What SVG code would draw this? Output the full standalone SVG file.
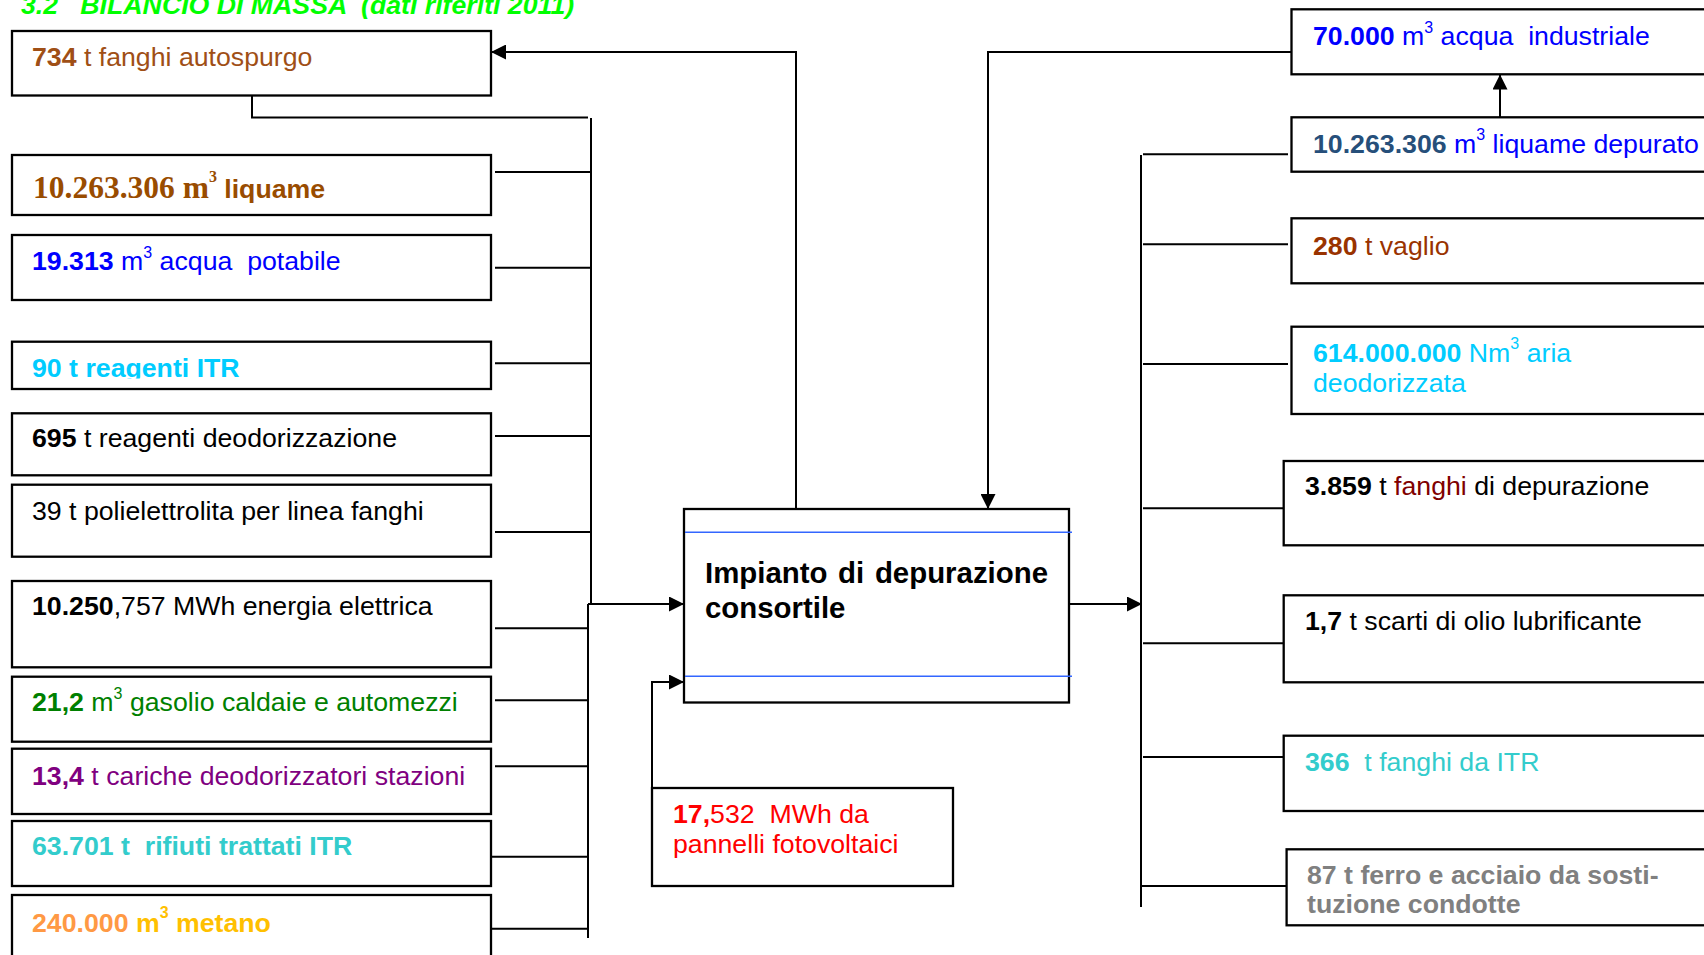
<svg xmlns="http://www.w3.org/2000/svg" width="1704" height="955" viewBox="0 0 1704 955">
<style>
  .box{fill:#fff;stroke:#000;stroke-width:2.3}
  .ln{stroke:#000;stroke-width:2;fill:none}
  .blue{stroke:#3366ff;stroke-width:1.6}
  text{font-family:"Liberation Sans",Arial,sans-serif;font-size:26.7px;white-space:pre}
  .b{font-weight:bold}
  .sup{font-size:16px}
  .serif{font-family:"Liberation Serif","Times New Roman",serif;font-weight:bold;font-size:31.5px}
  .serifsup{font-family:"Liberation Serif","Times New Roman",serif;font-weight:bold;font-size:16px}
  .main{font-weight:bold;font-size:29.4px}
</style>
<defs>
  <marker id="arr" markerUnits="userSpaceOnUse" markerWidth="15" markerHeight="15" refX="15" refY="7.5" orient="auto">
    <path d="M0,0 L15,7.5 L0,15 z" fill="#000"/>
  </marker>
  <clipPath id="clip90"><rect x="12" y="342" width="479" height="36.5"/></clipPath>
</defs>
<rect width="1704" height="955" fill="#fff"/>

<text id="title" x="21" y="13.5" class="b" font-style="italic" fill="#00ff00">3.2   BILANCIO DI MASSA  (dati riferiti 2011)</text>

<g id="connectors">
  <path class="ln" d="M796,509 V52 H491" marker-end="url(#arr)"/>
  <path class="ln" d="M1291,52 H988 V509" marker-end="url(#arr)"/>
  <path class="ln" d="M252,95.5 V117.5 H588"/>
  <path class="ln" d="M591,118 V604 M588,604 V938"/>
  <path class="ln" d="M495,172 H591 M495,267.7 H591 M495,363.3 H591 M495,436 H591 M495,532 H591 M495,628.3 H588 M495,700.3 H588 M495,766.3 H588 M491,856.7 H588 M491,928.7 H588"/>
  <path class="ln" d="M588,604 H684" marker-end="url(#arr)"/>
  <path class="ln" d="M652,788 V682 H684" marker-end="url(#arr)"/>
  <path class="ln" d="M1069,604 H1142" marker-end="url(#arr)"/>
  <path class="ln" d="M1141,155 V907"/>
  <path class="ln" d="M1143,154.3 H1288 M1143,244.3 H1288 M1143,364 H1288 M1143,508.3 H1288 M1143,643.3 H1288 M1143,757 H1288 M1141,886 H1287"/>
  <path class="ln" d="M1500,117 V74.5" marker-end="url(#arr)"/>
</g>

<g id="in-autospurgo">
  <rect class="box" x="12" y="31" width="479" height="64.5"/>
  <text x="32" y="66" fill="#9f4f16"><tspan class="b">734</tspan> t fanghi autospurgo</text>
</g>
<g id="in-liquame">
  <rect class="box" x="12" y="155" width="479" height="60"/>
  <text x="33" y="198" fill="#994c00"><tspan class="serif">10.263.306 m</tspan><tspan class="serifsup" dy="-16">3</tspan><tspan class="b" dy="16"> liquame</tspan></text>
</g>
<g id="in-acqua-potabile">
  <rect class="box" x="12" y="235" width="479" height="65"/>
  <text x="32" y="270" fill="#0000ff"><tspan class="b">19.313</tspan> m<tspan class="sup" dy="-12.5">3</tspan><tspan dy="12.5"> acqua  potabile</tspan></text>
</g>
<g id="in-reagenti-itr">
  <rect class="box" x="12" y="341.7" width="479" height="47.3"/>
  <text x="32" y="376.5" class="b" fill="#00ccff" clip-path="url(#clip90)">90 t reagenti ITR</text>
</g>
<g id="in-reagenti-deod">
  <rect class="box" x="12" y="413.3" width="479" height="62"/>
  <text x="32" y="446.7" fill="#000"><tspan class="b">695</tspan> t reagenti deodorizzazione</text>
</g>
<g id="in-polielettrolita">
  <rect class="box" x="12" y="484.7" width="479" height="72"/>
  <text x="32" y="520" fill="#000">39 t polielettrolita per linea fanghi</text>
</g>
<g id="in-energia">
  <rect class="box" x="12" y="581" width="479" height="86.3"/>
  <text x="32" y="615" fill="#000"><tspan class="b">10.250</tspan>,757 MWh energia elettrica</text>
</g>
<g id="in-gasolio">
  <rect class="box" x="12" y="676.7" width="479" height="65"/>
  <text x="32" y="711" fill="#008000"><tspan class="b">21,2</tspan> m<tspan class="sup" dy="-12.5">3</tspan><tspan dy="12.5"> gasolio caldaie e automezzi</tspan></text>
</g>
<g id="in-cariche">
  <rect class="box" x="12" y="748.7" width="479" height="65.3"/>
  <text x="32" y="785" fill="#800080"><tspan class="b">13,4</tspan> t cariche deodorizzatori stazioni</text>
</g>
<g id="in-rifiuti-itr">
  <rect class="box" x="12" y="821" width="479" height="65"/>
  <text x="32" y="855" class="b" fill="#33cccc">63.701 t  rifiuti trattati ITR</text>
</g>
<g id="in-metano">
  <rect class="box" x="12" y="895" width="479" height="80"/>
  <text x="32" y="931.5" class="b"><tspan fill="#ff9944">240.000 </tspan><tspan fill="#ffc000">m</tspan><tspan class="sup" dy="-14" fill="#ffc000">3</tspan><tspan dy="14" fill="#ffc000"> metano</tspan></text>
</g>

<g id="impianto">
  <rect class="box" x="684" y="509" width="385" height="193.5"/>
  <line class="blue" x1="685" y1="532.3" x2="1072" y2="532.3"/>
  <line class="blue" x1="685" y1="676.3" x2="1072" y2="676.3"/>
  <text x="705" y="583" class="main" word-spacing="2.5">Impianto di depurazione</text>
  <text x="705" y="618" class="main">consortile</text>
</g>

<g id="in-fotovoltaico">
  <rect class="box" x="652" y="788" width="301" height="98"/>
  <text x="673" y="823" fill="#ff0000"><tspan class="b">17,</tspan>532  MWh da</text>
  <text x="673" y="853" fill="#ff0000">pannelli fotovoltaici</text>
</g>

<g id="out-acqua-industriale">
  <rect class="box" x="1291.5" y="9.3" width="430" height="65"/>
  <text x="1313" y="45" fill="#0000ff"><tspan class="b">70.000</tspan> m<tspan class="sup" dy="-12.5">3</tspan><tspan dy="12.5"> acqua  industriale</tspan></text>
</g>
<g id="out-liquame-depurato">
  <rect class="box" x="1291.5" y="117.3" width="430" height="54.4"/>
  <text x="1313" y="152.7" fill="#0000ff"><tspan class="b" fill="#264f7a">10.263.306</tspan> m<tspan class="sup" dy="-12.5">3</tspan><tspan dy="12.5"> liquame depurato</tspan></text>
</g>
<g id="out-vaglio">
  <rect class="box" x="1291.5" y="218.3" width="430" height="65"/>
  <text x="1313" y="255" fill="#993300"><tspan class="b">280</tspan> t vaglio</text>
</g>
<g id="out-aria">
  <rect class="box" x="1291.5" y="326.7" width="430" height="87.3"/>
  <text x="1313" y="361.7" fill="#00ccff"><tspan class="b">614.000.000</tspan> Nm<tspan class="sup" dy="-12.5">3</tspan><tspan dy="12.5"> aria</tspan></text>
  <text x="1313" y="391.7" fill="#00ccff">deodorizzata</text>
</g>
<g id="out-fanghi-depurazione">
  <rect class="box" x="1283.7" y="461" width="440" height="84.3"/>
  <text x="1305" y="495" fill="#000"><tspan class="b">3.859</tspan> t <tspan fill="#800000">fanghi</tspan> di depurazione</text>
</g>
<g id="out-olio">
  <rect class="box" x="1283.7" y="595.3" width="440" height="87"/>
  <text x="1305" y="630" fill="#000"><tspan class="b">1,7</tspan> t scarti di olio lubrificante</text>
</g>
<g id="out-fanghi-itr">
  <rect class="box" x="1283.7" y="735.7" width="440" height="75.3"/>
  <text x="1305" y="770.7" fill="#33cccc"><tspan class="b">366</tspan>  t fanghi da ITR</text>
</g>
<g id="out-ferro">
  <rect class="box" x="1286.6" y="849.3" width="440" height="76"/>
  <text x="1307" y="884.3" class="b" fill="#808080">87 t ferro e acciaio da sosti-</text>
  <text x="1307" y="913.3" class="b" fill="#808080">tuzione condotte</text>
</g>
</svg>
